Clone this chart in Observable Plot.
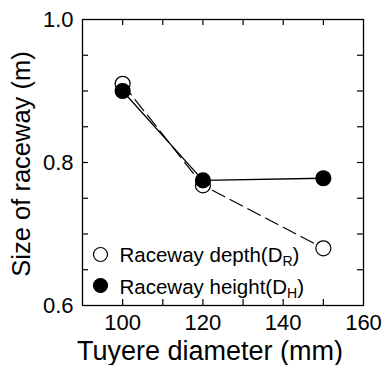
<!DOCTYPE html>
<html>
<head>
<meta charset="utf-8">
<script src="https://cdn.jsdelivr.net/npm/d3@7"></script>
<script src="https://cdn.jsdelivr.net/npm/@observablehq/plot@0.6"></script>
<style>
  body { margin: 0; background: #fff; }
  #chart svg { display: block; }
</style>
</head>
<body>
<div id="chart"></div>
<script>
// Tuyere diameter (mm) against raceway depth and height (m)
const diameters = [100, 120, 150];
const raceDepth = [0.91, 0.768, 0.68];
const raceHeight = [0.90, 0.775, 0.778];

const xTickLabels = [100, 120, 140, 160];
const xTickMarks = [100, 110, 120, 130, 140, 150];
const yTickLabels = [0.6, 0.8, 1.0];
const yTickMarks = [0.65, 0.7, 0.75, 0.8, 0.85, 0.9, 0.95];

const legendNames = ["Raceway depth", "Raceway height"];
const legendSubs = ["R", "H"];
const xTitle = "Tuyere diameter (mm)";
const yTitle = "Size of raceway (m)";

const W = 382, H = 365;
const mL = 82, mR = 19, mT = 19, mB = 60;
const innerW = W - mL - mR, innerH = H - mT - mB;
const tick = 6;

const depthRows = diameters.map((d, i) => ({d, v: raceDepth[i]}));
const heightRows = diameters.map((d, i) => ({d, v: raceHeight[i]}));
const legendRows = legendNames.map((n, i) => ({label: `${n}(D_${legendSubs[i]})`, filled: i === 1}));

const ink = "#000";

const chart = Plot.plot({
  width: W,
  height: H,
  marginLeft: mL, marginRight: mR, marginTop: mT, marginBottom: mB,
  style: {fontFamily: "'Liberation Sans', Arial, Helvetica, sans-serif", color: ink, background: "#fff"},
  x: {domain: [90, 160]},
  y: {domain: [0.6, 1.0]},
  marks: [
    // inward ticks on all four sides
    Plot.tickX(xTickMarks, {x: d => d, insetTop: innerH - tick, stroke: ink, strokeWidth: 1.2}),
    Plot.tickX(xTickMarks, {x: d => d, insetBottom: innerH - tick, stroke: ink, strokeWidth: 1.2}),
    Plot.tickY(yTickMarks, {y: d => d, insetRight: innerW - tick, stroke: ink, strokeWidth: 1.2}),
    Plot.tickY(yTickMarks, {y: d => d, insetLeft: innerW - tick, stroke: ink, strokeWidth: 1.2}),
    Plot.axisX(xTickLabels, {tickSize: 0, tickPadding: 9, fontSize: 22, label: null}),
    Plot.axisY(yTickLabels, {tickSize: 0, tickPadding: 9, fontSize: 22, label: null, tickFormat: d3.format(".1f")}),
    Plot.frame({stroke: ink, strokeWidth: 1.3}),

    // series
    Plot.line(depthRows, {x: "d", y: "v", stroke: ink, strokeWidth: 1.2, strokeDasharray: "14,6"}),
    Plot.line(heightRows, {x: "d", y: "v", stroke: ink, strokeWidth: 1.3}),
    Plot.dot(depthRows, {x: "d", y: "v", r: 7.5, fill: "#fff", stroke: ink, strokeWidth: 1.2}),
    Plot.dot(heightRows, {x: "d", y: "v", r: 7.5, fill: ink, stroke: ink, strokeWidth: 1.2}),

    // legend inside the frame
    Plot.dot([legendRows[0]], {frameAnchor: "bottom-left", dx: 18, dy: -51, r: 7, fill: "#fff", stroke: ink, strokeWidth: 1.2}),
    Plot.dot([legendRows[1]], {frameAnchor: "bottom-left", dx: 18, dy: -20, r: 7, fill: ink, stroke: ink, strokeWidth: 1.2}),
    Plot.text([legendRows[0]], {text: "label", frameAnchor: "bottom-left", dx: 37, dy: -50, textAnchor: "start", lineAnchor: "middle", fontSize: 20.5, fill: ink, className: "legend-label"}),
    Plot.text([legendRows[1]], {text: "label", frameAnchor: "bottom-left", dx: 37, dy: -18, textAnchor: "start", lineAnchor: "middle", fontSize: 20.5, fill: ink, className: "legend-label"}),

    // axis titles
    Plot.text([xTitle], {text: d => d, frameAnchor: "bottom", dx: -13, dy: 46, textAnchor: "middle", lineAnchor: "middle", fontSize: 27, fill: ink}),
    Plot.text([yTitle], {text: d => d, frameAnchor: "left", rotate: -90, dx: -61, dy: 1.5, textAnchor: "middle", lineAnchor: "middle", fontSize: 25.5, fill: ink})
  ]
});

// subscripts in the legend labels: "D_R" -> D with subscript R
chart.querySelectorAll(".legend-label text").forEach(t => {
  const s = t.textContent;
  const m = s.match(/^(.*)_(\w)\)$/);
  if (!m) return;
  t.textContent = "";
  const ns = "http://www.w3.org/2000/svg";
  const a = document.createElementNS(ns, "tspan");
  a.textContent = m[1];
  const b = document.createElementNS(ns, "tspan");
  b.textContent = m[2];
  b.setAttribute("font-size", "14");
  b.setAttribute("dy", "4");
  const c = document.createElementNS(ns, "tspan");
  c.textContent = ")";
  c.setAttribute("dy", "-4");
  t.append(a, b, c);
});

document.getElementById("chart").append(chart);
</script>
</body>
</html>
